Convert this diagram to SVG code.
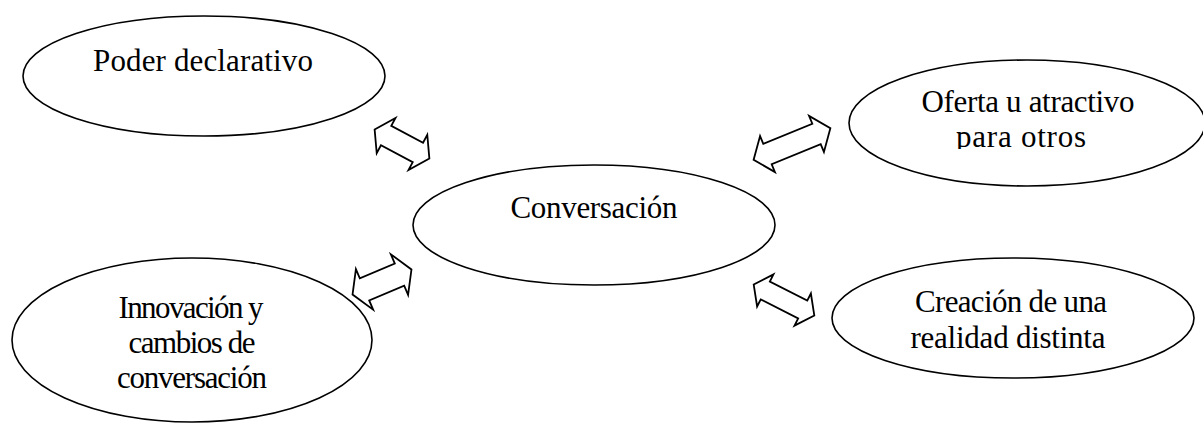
<svg xmlns="http://www.w3.org/2000/svg" width="1203" height="423" viewBox="0 0 1203 423">
<style>
.node{fill:#fff;stroke:#000;stroke-width:1.6}
.arr{fill:#fff;stroke:#000;stroke-width:1.8;stroke-linejoin:miter}
.t{font-family:"Liberation Serif","Times New Roman",serif;font-size:31px;fill:#000;text-anchor:middle}
</style>
<defs>
<clipPath id="clipOferta"><rect x="850" y="60" width="360" height="89"/></clipPath>
</defs>
<rect width="1203" height="423" fill="#fff"/>
<g id="node-poder">
<ellipse class="node" cx="204" cy="76" rx="181" ry="60"/>
<text class="t" x="203" y="71" textLength="220">Poder declarativo</text>
</g>
<g id="node-conversacion">
<ellipse class="node" cx="594" cy="225" rx="181" ry="60"/>
<text class="t" x="594" y="218" textLength="167">Conversación</text>
</g>
<g id="node-oferta">
<ellipse class="node" cx="1027" cy="123" rx="178" ry="63"/>
<g clip-path="url(#clipOferta)">
<text class="t" x="1028" y="112" textLength="213">Oferta u atractivo</text>
<text class="t" x="1021" y="147" textLength="130">para otros</text>
</g>
</g>
<g id="node-creacion">
<ellipse class="node" cx="1013" cy="318" rx="181" ry="60"/>
<text class="t" x="1011" y="312" textLength="192">Creación de una</text>
<text class="t" x="1008" y="348" textLength="195">realidad distinta</text>
</g>
<g id="node-innovacion">
<ellipse class="node" cx="192" cy="340" rx="180" ry="82"/>
<text class="t" x="191" y="318" textLength="145">Innovación y</text>
<text class="t" x="192" y="353" textLength="127">cambios de</text>
<text class="t" x="192" y="388" textLength="150">conversación</text>
</g>
<g id="connectors">
<polygon class="arr" transform="translate(402,144) rotate(28)" points="-31,0 -18,-20 -18,-11 18,-11 18,-20 31,0 18,20 18,11 -18,11 -18,20"/>
<polygon class="arr" transform="translate(792,144) rotate(-22.4)" points="-41.5,0 -26.5,-19.5 -26.5,-11 26.5,-11 26.5,-19.5 41.5,0 26.5,19.5 26.5,11 -26.5,11 -26.5,19.5"/>
<polygon class="arr" transform="translate(382,282) rotate(-23)" points="-32,0 -19,-22 -19,-12 19,-12 19,-22 32,0 19,22 19,12 -19,12 -19,22"/>
<polygon class="arr" transform="translate(784,300) rotate(27)" points="-34,0 -21,-18 -21,-10 21,-10 21,-18 34,0 21,18 21,10 -21,10 -21,18"/>
</g>
</svg>
